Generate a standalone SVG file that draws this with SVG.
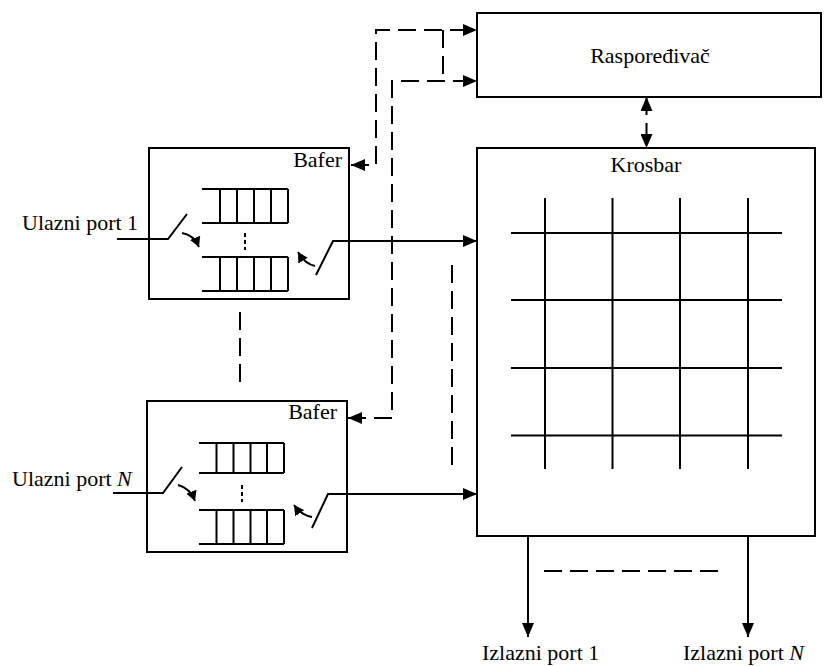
<svg xmlns="http://www.w3.org/2000/svg" width="824" height="666" viewBox="0 0 824 666">
<style>
.box{fill:#fff;stroke:#000;stroke-width:2}
.ln{fill:none;stroke:#000;stroke-width:2}
.dash{fill:none;stroke:#000;stroke-width:2;stroke-dasharray:18 8}
.dots{fill:none;stroke:#000;stroke-width:2;stroke-dasharray:4 3}
.t{font-family:"Liberation Serif","Times New Roman",serif;font-size:22px;fill:#000}
.it{font-style:italic}
</style>
<defs>
<marker id="ah" markerUnits="userSpaceOnUse" markerWidth="14" markerHeight="12" refX="14" refY="6" orient="auto-start-reverse" viewBox="0 0 14 12">
<path d="M0,0 L14,6 L0,12 z" fill="#000"/>
</marker>
<marker id="ahs" markerUnits="userSpaceOnUse" markerWidth="10" markerHeight="11" refX="10" refY="5.5" orient="auto" viewBox="0 0 10 11">
<path d="M0,0 L10,5.5 L0,11 z" fill="#000"/>
</marker>
</defs>

<g id="scheduler">
<rect class="box" x="477" y="13" width="344" height="84"/>
<text class="t" x="650" y="63" text-anchor="middle">Raspoređivač</text>
</g>

<g id="crossbar">
<rect class="box" x="477" y="148" width="338" height="388"/>
<text class="t" x="646" y="172" text-anchor="middle">Krosbar</text>
<path class="ln" d="M545,198V469M612.5,198V469M680,198V469M748,198V469M511,233H782M511,300H782M511,368H782M511,435.5H782"/>
</g>

<g id="buffer1">
<rect class="box" x="149" y="148" width="200" height="151"/>
<text class="t" x="342" y="167" text-anchor="end">Bafer</text>
<path class="ln" d="M202,189H288M202,223H288M220,189V223M237,189V223M254,189V223M271,189V223M288,189V223"/>
<path class="ln" d="M202,257H288M202,291H288M220,257V291M237,257V291M254,257V291M271,257V291M288,257V291"/>
<path class="dots" d="M245,233V250"/>
<path class="ln" d="M117,239H168L187,214"/>
<path class="ln" d="M316,275L333,241H349"/>
<path class="ln" marker-end="url(#ahs)" d="M182,233Q194,235 199,247"/>
<path class="ln" marker-end="url(#ahs)" d="M315,266Q305,264 298,252"/>
</g>

<g id="bufferN">
<rect class="box" x="147" y="401" width="200" height="151"/>
<text class="t" x="337" y="419" text-anchor="end">Bafer</text>
<path class="ln" d="M199,443H284M199,473H284M216.5,443V473M233.5,443V473M250.5,443V473M267,443V473M284,443V473"/>
<path class="ln" d="M199,510H284M199,544H284M216.5,510V544M233.5,510V544M250.5,510V544M267,510V544M284,510V544"/>
<path class="dots" d="M242,485V502"/>
<path class="ln" d="M113,493H163L182,467"/>
<path class="ln" d="M312,528L328,494H347"/>
<path class="ln" marker-end="url(#ahs)" d="M178,485Q190,488 195,501"/>
<path class="ln" marker-end="url(#ahs)" d="M312,517Q301,515 294,505"/>
</g>

<g id="input-labels">
<text class="t" x="22" y="230">Ulazni port 1</text>
<text class="t" x="12" y="486">Ulazni port <tspan class="it">N</tspan></text>
</g>

<g id="output-labels">
<text class="t" x="482" y="660">Izlazni port 1</text>
<text class="t" x="683" y="660">Izlazni port <tspan class="it">N</tspan></text>
</g>

<g id="connectors">
<path class="ln" marker-end="url(#ah)" d="M349,241H477"/>
<path class="ln" marker-end="url(#ah)" d="M347,494H477"/>
<path class="dash" marker-start="url(#ah)" marker-end="url(#ah)" d="M351,165H376V30H477"/>
<path class="dash" marker-start="url(#ah)" marker-end="url(#ah)" d="M348,418H392V81H477"/>
<path class="dash" d="M443,30V81"/>
<path class="dash" marker-start="url(#ah)" marker-end="url(#ah)" d="M646.5,97V148"/>
<path class="dash" d="M452,265V470"/>
<path class="dash" d="M240,312V384"/>
<path class="dash" d="M544,571H724"/>
<path class="ln" marker-end="url(#ah)" d="M528,536V637"/>
<path class="ln" marker-end="url(#ah)" d="M748,536V637"/>
</g>
</svg>
